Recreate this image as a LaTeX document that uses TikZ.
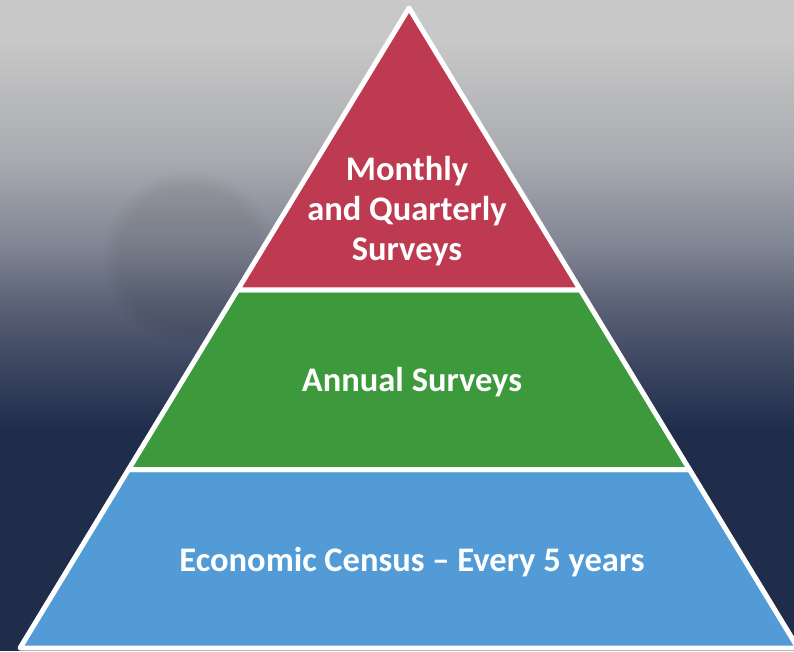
\documentclass[tikz,border=0pt]{standalone}
\usepackage{fontspec}
\setmainfont{Carlito}
\usetikzlibrary{calc}
\usetikzlibrary{fadings}
\definecolor{bgtop}{HTML}{C8C8C8}
\definecolor{bgnavy}{HTML}{1F2D4B}
\definecolor{tierred}{HTML}{BE3A50}
\definecolor{tiergreen}{HTML}{3C9A3C}
\definecolor{tierblue}{HTML}{529BD6}
\definecolor{bgone}{RGB}{168,170,175}
\definecolor{bgtwo}{RGB}{126,131,146}
\definecolor{bgthree}{RGB}{92,100,119}
\definecolor{bgfour}{RGB}{62,72,98}
\tikzset{tier/.style = {draw = white, line width = 5pt, line join = round},
  tierlabel/.style = {text = white, font = \bfseries\fontsize{34.5}{40}\selectfont, align = center}}

\begin{document}
\begin{tikzpicture}[x=1pt, y=-1pt]
  \useasboundingbox (0, 0) rectangle (794, 651);
  \clip (0, 0) rectangle (794, 651);
  % background
  \fill [bgtop] (0, 0) rectangle (794, 40);
  \shade [top color = bgtop, bottom color = bgone] (0, 39.5) rectangle (794, 160.5);
  \shade [top color = bgone, bottom color = bgtwo] (0, 160) rectangle (794, 250.5);
  \shade [top color = bgtwo, bottom color = bgthree] (0, 250) rectangle (794, 300.5);
  \shade [top color = bgthree, bottom color = bgfour] (0, 300) rectangle (794, 360.5);
  \shade [top color = bgfour, bottom color = bgnavy] (0, 360) rectangle (794, 430.5);
  \fill [bgnavy] (0, 430) rectangle (794, 651);
  \fill [black, opacity = 0.07, path fading = circle with fuzzy edge 20 percent] (190, 258) circle (88);

  % pyramid
  \coordinate (apex) at (409, 8);
  \coordinate (bl) at (20, 648);
  \coordinate (br) at (798, 648);
  \coordinate (ul) at ($(apex)!0.4406!(bl)$);
  \coordinate (ur) at ($(apex)!0.4406!(br)$);
  \coordinate (ll) at ($(apex)!0.7211!(bl)$);
  \coordinate (lr) at ($(apex)!0.7211!(br)$);
  \draw [tier, fill = tierblue] (ll) -- (lr) -- (br) -- (bl) -- cycle;
  \draw [tier, fill = tiergreen] (ul) -- (ur) -- (lr) -- (ll) -- cycle;
  \draw [tier, fill = tierred] (apex) -- (ur) -- (ul) -- cycle;

  \node [tierlabel] (monthly) at (407, 211) {Monthly\\and Quarterly\\Surveys};
  \node [tierlabel] (annual) at (412, 382) {Annual Surveys};
  \node [tierlabel] (census) at (412, 562) {Economic Census – Every 5 years};
\end{tikzpicture}
\end{document}
